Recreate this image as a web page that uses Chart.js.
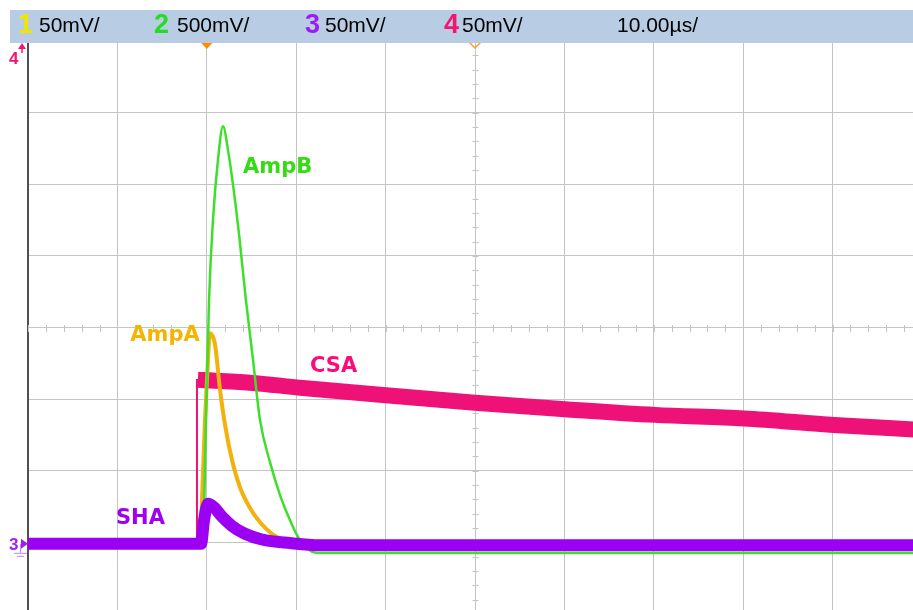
<!DOCTYPE html>
<html>
<head>
<meta charset="utf-8">
<script src="https://cdn.jsdelivr.net/npm/chart.js@4.4.1/dist/chart.umd.min.js"></script>
<style>
  html, body { margin: 0; padding: 0; background: #fff; width: 913px; height: 610px; overflow: hidden; }
  #wrap { position: absolute; left: 0; top: 0; width: 922px; height: 614px; }
  #bar { position: absolute; left: 10px; top: 10px; width: 903px; height: 33px; background: #b8cce4; z-index: 2; }
  .lbl { position: absolute; white-space: nowrap; font-family: "Liberation Sans", Arial, sans-serif; }
</style>
</head>
<body>
<div id="wrap"><canvas id="scope"></canvas></div>
<div id="bar"></div>
<script>
// header labels
const channelNames = ['1', '2', '3', '4'];
const channelScales = ['50mV/', '500mV/', '50mV/', '50mV/'];
const timeBase = '10.00µs/';

// axes: time in µs around the trigger point, level in divisions
const timeTicks = [-50, 50, 10];
const levelTicks = [-4, 4, 1];

// SHA (ch3, purple)
const shaTime  = [-50, -30.65, -30.31, -29.87, -29.19, -28.3, -27.18, -25.73, -23.83, -20.69, -17.34, 50];
const shaLevel = [-3.02, -3.02, -2.69, -2.46, -2.51, -2.64, -2.77, -2.88, -2.96, -3.01, -3.04, -3.04];

// AmpB (ch2, green)
const ampBTime  = [-50, -30.7, -30.43, -30.09, -29.75, -29.31, -28.75, -28.19, -27.63, -26.51, -25.62, -24.83, -24.05, -22.93, -21.81, -20.69, -19.91, -19.02, -17.56, 50];
const ampBLevel = [-3.02, -3.02, -2.97, -1.29, 0.38, 1.5, 2.34, 2.81, 2.48, 1.43, 0.38, -0.45, -1.29, -1.88, -2.34, -2.69, -2.9, -3.06, -3.15, -3.15];

// AmpA (ch1, orange)
const ampATime  = [-50, -30.76, -30.54, -30.2, -29.98, -29.64, -29.08, -28.52, -27.96, -27.18, -26.29, -25.17, -24.05, -22.71, -21.25, -19.57, 50];
const ampALevel = [-3.02, -3.02, -2.42, -1.29, -0.73, -0.08, -0.24, -0.87, -1.36, -1.85, -2.23, -2.52, -2.72, -2.88, -2.97, -3.03, -3.05];

// CSA (ch4, pink): baseline + step, then slow decay
const csaStepTime  = [-50, -31.1, -31.1];
const csaStepLevel = [-3.02, -3.02, -0.72];
const csaTime  = [-31.0, -25.17, -19.57, -10.63, 0, 10.07, 20.13, 30.09, 40.16, 50];
const csaLevel = [-0.73, -0.77, -0.84, -0.94, -1.05, -1.14, -1.22, -1.27, -1.36, -1.43];

// trace names placed next to the curves
const traceNames  = ['AmpB', 'AmpA', 'CSA', 'SHA'];
const nameTime    = [-25.95, -38.55, -18.46, -40.16];
const nameLevel   = [2.16, -0.19, -0.62, -2.74];
const nameColors  = ['#33dd11', '#f5b400', '#ff0a78', '#a000f0'];

const toPoints = (xs, ys) => xs.map((x, i) => ({ x: x, y: ys[i] }));

// header
const bar = document.getElementById('bar');
const digitColors = ['#f2e600', '#22dd22', '#9b1cf0', '#f5146e'];
const digitLeft = [8, 144, 295, 434];
const scaleLeft = [29, 167, 315, 452];
channelNames.forEach((n, i) => {
    const d = document.createElement('span');
    d.className = 'lbl';
    d.textContent = n;
    d.style.cssText = 'left:' + digitLeft[i] + 'px;top:1px;font-size:27px;line-height:27px;font-weight:bold;color:' + digitColors[i];
    bar.appendChild(d);
    const s = document.createElement('span');
    s.className = 'lbl';
    s.textContent = channelScales[i];
    s.style.cssText = 'left:' + scaleLeft[i] + 'px;top:4px;font-size:21px;line-height:21px;color:#000';
    bar.appendChild(s);
});
const tb = document.createElement('span');
tb.className = 'lbl';
tb.textContent = timeBase;
tb.style.cssText = 'left:607px;top:4px;font-size:21px;line-height:21px;color:#000';
bar.appendChild(tb);

const gridColor = '#c4c4c4';

const scopeDecor = {
    id: 'scopeDecor',
    beforeDatasetsDraw(chart) {
        const { ctx, scales: { x, y } } = chart;
        const cx = Math.round(x.getPixelForValue(0)) + 0.5;
        const cy = Math.round(y.getPixelForValue(0)) + 0.5;
        ctx.save();
        ctx.strokeStyle = gridColor;
        ctx.lineWidth = 1;
        ctx.beginPath();
        for (let t = timeTicks[0]; t <= timeTicks[1]; t += 2) {
            const px = Math.round(x.getPixelForValue(t)) + 0.5;
            ctx.moveTo(px, cy - 3.5);
            ctx.lineTo(px, cy + 3.5);
        }
        for (let v = levelTicks[0]; v <= levelTicks[1] + 0.001; v += 0.2) {
            const py = Math.round(y.getPixelForValue(v)) + 0.5;
            ctx.moveTo(cx - 3, py);
            ctx.lineTo(cx + 3, py);
        }
        ctx.stroke();
        ctx.restore();
    },
    afterDatasetsDraw(chart) {
        const { ctx, scales: { x, y } } = chart;
        ctx.save();
        ctx.font = 'bold 21px "DejaVu Sans"';
        ctx.textBaseline = 'alphabetic';
        traceNames.forEach((name, i) => {
            ctx.fillStyle = nameColors[i];
            ctx.fillText(name, x.getPixelForValue(nameTime[i]), y.getPixelForValue(nameLevel[i]));
        });

        // trigger position marker
        const tx = x.getPixelForValue(-30);
        ctx.fillStyle = '#ff8c00';
        ctx.beginPath();
        ctx.moveTo(tx - 6.5, 42);
        ctx.lineTo(tx + 6.5, 42);
        ctx.lineTo(tx, 49);
        ctx.closePath();
        ctx.fill();

        // delay marker at centre
        const mx = x.getPixelForValue(0);
        ctx.strokeStyle = '#ff9a30';
        ctx.lineWidth = 1.5;
        ctx.beginPath();
        ctx.moveTo(mx - 6, 42);
        ctx.lineTo(mx, 48);
        ctx.lineTo(mx + 6, 42);
        ctx.stroke();

        // ch4 offset above screen
        ctx.fillStyle = '#f5146e';
        ctx.strokeStyle = '#f5146e';
        ctx.beginPath();
        ctx.moveTo(18, 49);
        ctx.lineTo(26, 49);
        ctx.lineTo(22, 43);
        ctx.closePath();
        ctx.fill();
        ctx.lineWidth = 1.5;
        ctx.beginPath();
        ctx.moveTo(22, 48);
        ctx.lineTo(22, 53);
        ctx.stroke();
        ctx.font = 'bold 17px "Liberation Sans"';
        ctx.fillText('4', 9, 64);

        // ch3 ground marker
        const gy = y.getPixelForValue(-3.02);
        ctx.fillStyle = '#a020f0';
        ctx.font = 'bold 17px "Liberation Sans"';
        ctx.fillText('3', 9, gy + 6);
        ctx.beginPath();
        ctx.moveTo(21, gy - 5);
        ctx.lineTo(21, gy + 5);
        ctx.lineTo(28, gy);
        ctx.closePath();
        ctx.fill();
        ctx.strokeStyle = '#c080ff';
        ctx.lineWidth = 1;
        ctx.beginPath();
        ctx.moveTo(20.5, gy);
        ctx.lineTo(20.5, gy + 9);
        ctx.moveTo(14, gy + 9.5);
        ctx.lineTo(27, gy + 9.5);
        ctx.moveTo(17, gy + 12.5);
        ctx.lineTo(24, gy + 12.5);
        ctx.stroke();
        ctx.restore();
    }
};

const line = (data, color, width, extra) => Object.assign({
    data: data,
    borderColor: color,
    borderWidth: width,
    pointRadius: 0,
    fill: false,
    tension: 0
}, extra || {});

new Chart(document.getElementById('scope'), {
    type: 'line',
    data: {
        datasets: [
            line(toPoints(shaTime, shaLevel), '#9b00f2', 12, { cubicInterpolationMode: 'monotone', borderJoinStyle: 'round' }),
            line(toPoints(ampBTime, ampBLevel), '#3ddf2a', 2.5, { cubicInterpolationMode: 'monotone' }),
            line(toPoints(ampATime, ampALevel), '#f2b10c', 4, { cubicInterpolationMode: 'monotone' }),
            line(toPoints(csaTime, csaLevel), '#ee1177', 16, { cubicInterpolationMode: 'monotone' }),
            line(toPoints(csaStepTime, csaStepLevel), '#ee1177', 2)
        ]
    },
    options: {
        responsive: true,
        maintainAspectRatio: false,
        animation: false,
        events: [],
        layout: { padding: { left: 28, top: 41, right: 0, bottom: 0 } },
        plugins: { legend: { display: false }, tooltip: { enabled: false } },
        scales: {
            x: {
                type: 'linear',
                min: timeTicks[0],
                max: timeTicks[1],
                ticks: { display: false, stepSize: timeTicks[2] },
                grid: { color: gridColor, lineWidth: 1, drawTicks: false },
                border: { display: false },
                afterFit: s => { s.height = 0; }
            },
            y: {
                type: 'linear',
                min: levelTicks[0],
                max: levelTicks[1],
                ticks: { display: false, stepSize: levelTicks[2] },
                grid: { color: gridColor, lineWidth: 1, drawTicks: false },
                border: { display: true, color: '#505050', width: 2 },
                afterFit: s => { s.width = 0; }
            }
        }
    },
    plugins: [scopeDecor]
});
</script>
</body>
</html>
